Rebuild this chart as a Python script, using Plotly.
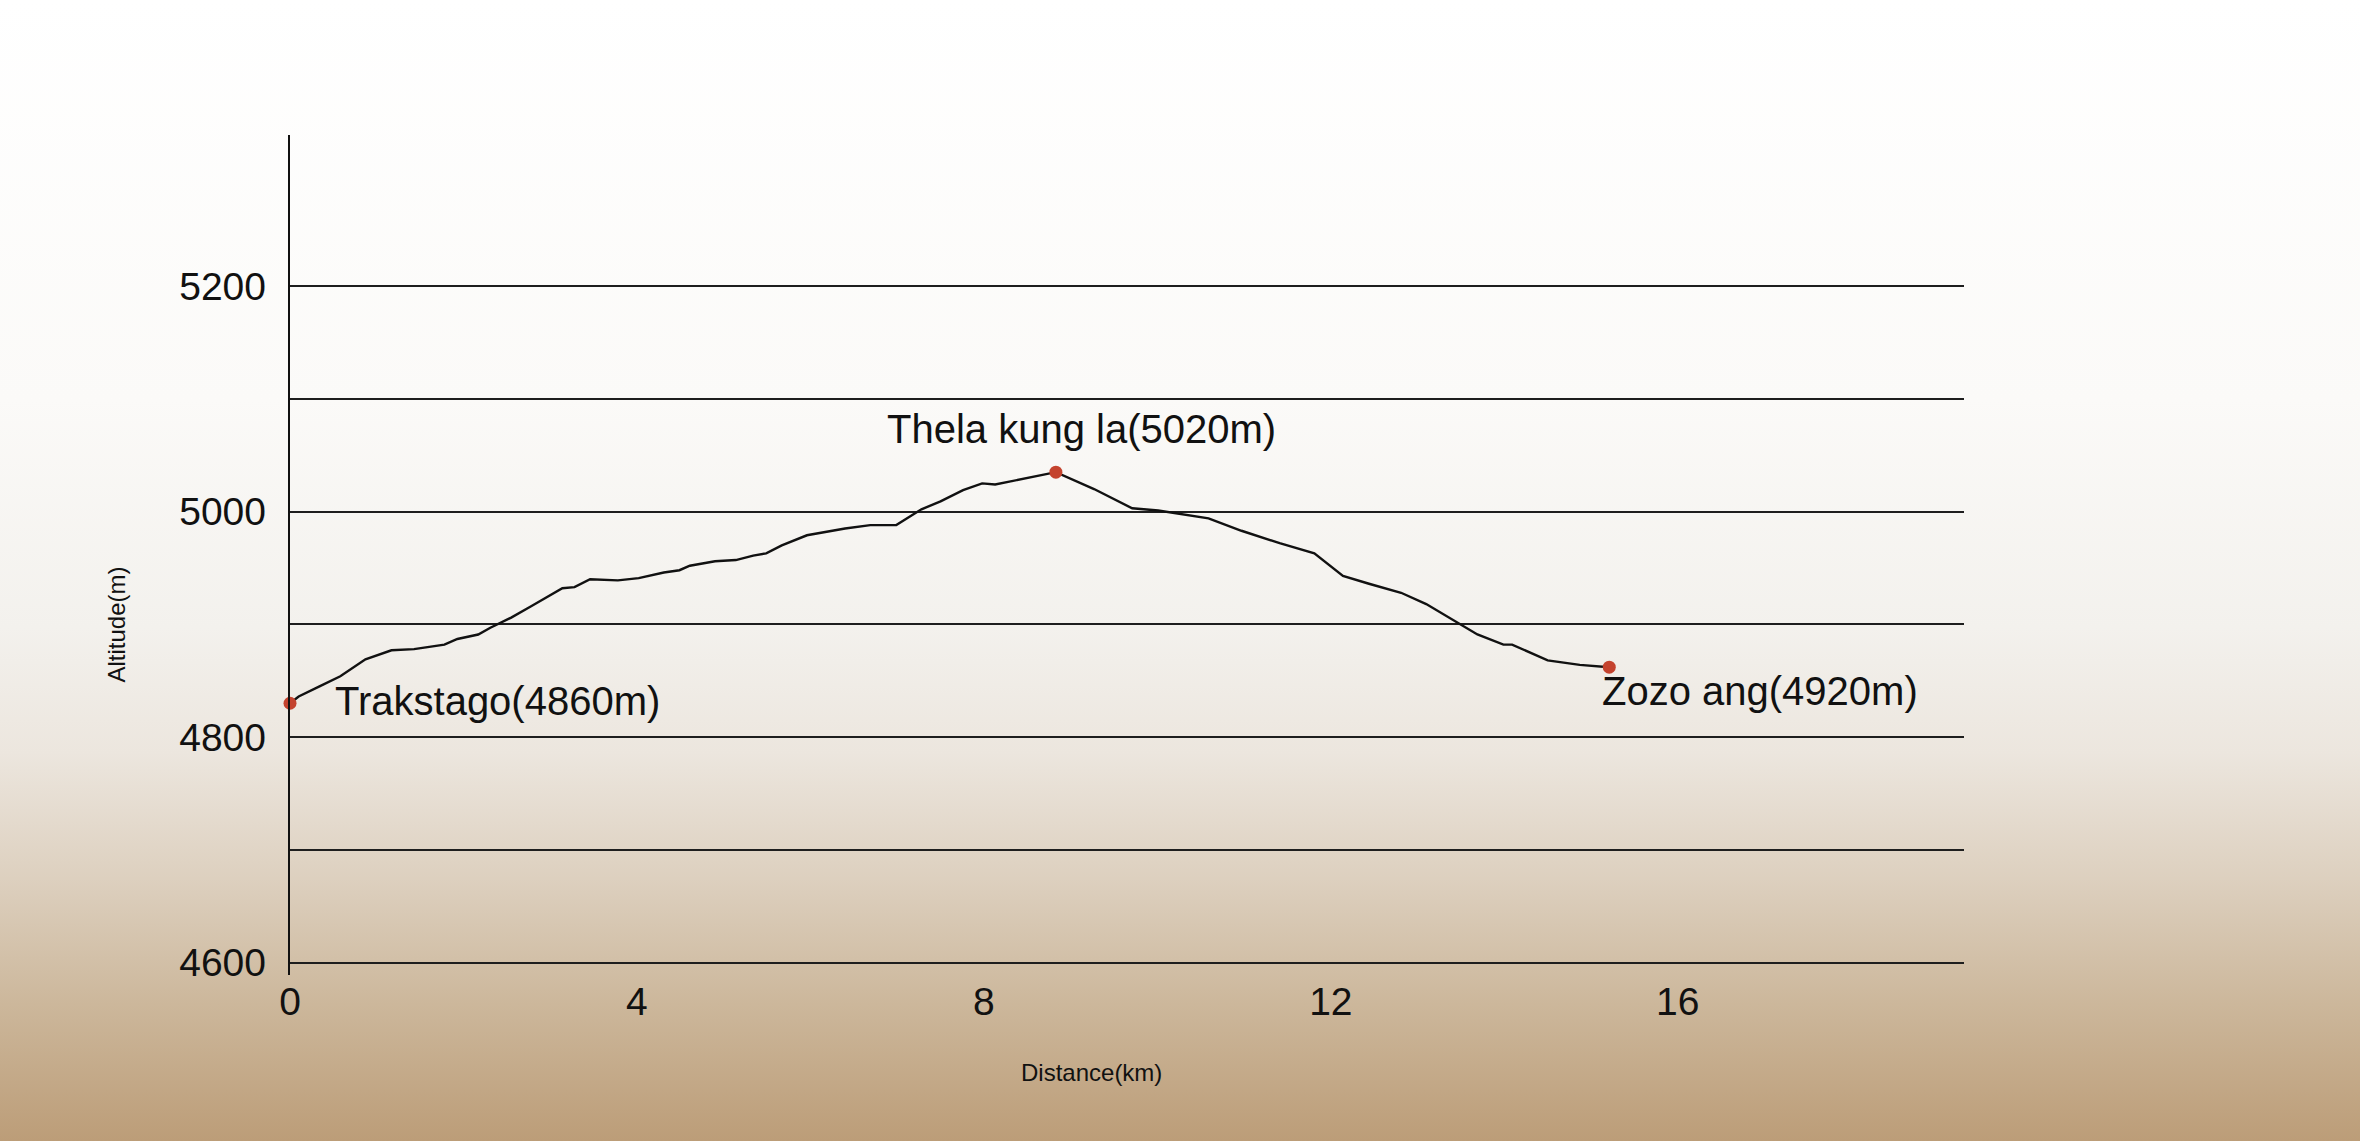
import base64
import plotly.graph_objects as go

# trail profile
distance_km = [0.0, 0.1, 0.34, 0.58, 0.87, 1.17, 1.43, 1.78, 1.93, 2.17, 2.31, 2.55, 2.78,
               3.14, 3.28, 3.46, 3.78, 4.02, 4.31, 4.49, 4.61, 4.90, 5.14, 5.34, 5.49, 5.67,
               5.96, 6.40, 6.69, 6.99, 7.28, 7.50, 7.76, 7.98, 8.13, 8.39, 8.64, 8.83, 9.27,
               9.71, 10.01, 10.45, 10.59, 10.97, 11.41, 11.81, 12.14, 12.44, 12.81, 13.10,
               13.40, 13.69, 13.99, 14.09, 14.50, 14.87, 15.21]
altitude_m = [4830, 4836, 4845, 4854, 4869, 4877, 4878, 4882, 4887, 4891, 4897, 4906, 4916,
              4932, 4933, 4940, 4939, 4941, 4946, 4948, 4952, 4956, 4957, 4961, 4963, 4970,
              4979, 4985, 4988, 4988, 5002, 5009, 5019, 5025, 5024, 5028, 5032, 5035, 5020,
              5003, 5001, 4996, 4994, 4983, 4972, 4963, 4943, 4936, 4928, 4918, 4904, 4891,
              4882, 4882, 4868, 4864, 4862]

# named places
place_names = ["Trakstago(4860m)", "Thela kung la(5020m)", "Zozo ang(4920m)"]
place_km = [0.0, 8.83, 15.21]
place_alt = [4830, 5035, 4862]
label_km = [0.5, 6.86, 15.1]
label_alt = [4832, 5073, 4841]

y_ticks = [4600, 4700, 4800, 4900, 5000, 5100, 5200]
y_tick_text = ["4600", "", "4800", "", "5000", "", "5200"]
x_ticks = [0, 4, 8, 12, 16]

W, H = 2360, 1141
L, R, T, B = 290, 396, 135, 166
PW, PH = W - L - R, H - T - B
FONT = "Liberation Sans, Arial, Helvetica, sans-serif"

# paper background: white fading to sand at the bottom
svg = """<svg xmlns='http://www.w3.org/2000/svg' width='100' height='100' preserveAspectRatio='none'>
<defs><linearGradient id='g' x1='0' y1='0' x2='0' y2='1'>
<stop offset='0' stop-color='#ffffff'/>
<stop offset='0.35' stop-color='#fbfaf8'/>
<stop offset='0.55' stop-color='#f3f1ed'/>
<stop offset='0.66' stop-color='#ece6de'/>
<stop offset='0.77' stop-color='#ddd0bf'/>
<stop offset='0.88' stop-color='#ccb79b'/>
<stop offset='1' stop-color='#bc9d78'/>
</linearGradient></defs>
<rect width='100' height='100' fill='url(#g)'/></svg>"""
bg_src = "data:image/svg+xml;base64," + base64.b64encode(svg.encode()).decode()

fig = go.Figure()

fig.add_trace(go.Scatter(
    x=distance_km, y=altitude_m, mode="lines",
    line=dict(color="#111111", width=2.4),
    showlegend=False, hoverinfo="skip",
))

fig.add_trace(go.Scatter(
    x=place_km, y=place_alt, mode="markers",
    marker=dict(color="#c4432e", size=13, opacity=1, line=dict(width=0)),
    cliponaxis=False, showlegend=False,
))

for name, lx, ly in zip(place_names, label_km, label_alt):
    fig.add_annotation(x=lx, y=ly, text=name, showarrow=False,
                       xanchor="left", yanchor="middle",
                       font=dict(family=FONT, size=40, color="#111111"))

fig.add_annotation(x=(100 - L) / PW, y=(H - B - 625) / PH, xref="paper", yref="paper",
                   text="Altitude(m)", textangle=-90, showarrow=False,
                   font=dict(family=FONT, size=24, color="#111111"))
fig.add_annotation(x=(1091 - L) / PW, y=(H - B - 1088) / PH, xref="paper", yref="paper",
                   text="Distance(km)", showarrow=False,
                   font=dict(family=FONT, size=24, color="#111111"))

fig.update_layout(
    width=W, height=H,
    margin=dict(l=L, r=R, t=T, b=B, pad=0),
    paper_bgcolor="#ffffff",
    plot_bgcolor="rgba(0,0,0,0)",
    images=[dict(source=bg_src, xref="paper", yref="paper",
                 x=-L / PW, y=1 + T / PH, sizex=W / PW, sizey=H / PH,
                 xanchor="left", yanchor="top", sizing="stretch", layer="below")],
    xaxis=dict(range=[0, 19.3], tickvals=x_ticks, showgrid=False, zeroline=False,
               showline=False, ticks="", tickfont=dict(family=FONT, size=39, color="#111111")),
    yaxis=dict(range=[4589, 5334], tickvals=y_ticks, ticktext=y_tick_text,
               showgrid=True, gridcolor="#1e1e1e", gridwidth=2.4, zeroline=False,
               showline=True, linecolor="#111111", linewidth=2.4, ticks="",
               ticklabelstandoff=14,
               tickfont=dict(family=FONT, size=39, color="#111111")),
)

fig.write_html("out.html", config={"displayModeBar": False},
               post_script="document.body.style.margin='0';document.body.style.overflow='hidden';")
